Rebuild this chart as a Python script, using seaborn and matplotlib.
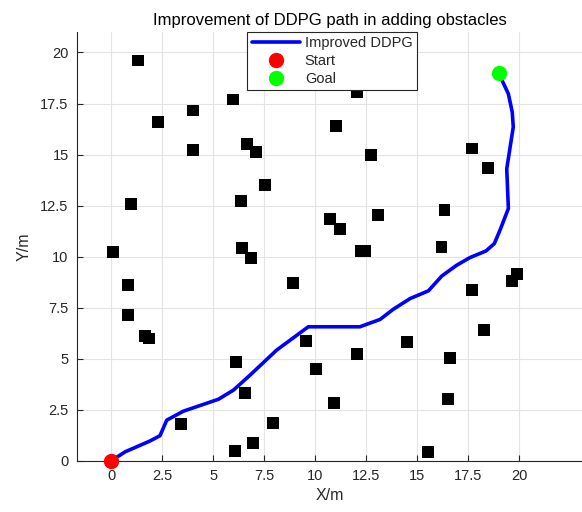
import numpy as np
import pandas as pd
import matplotlib
matplotlib.use("Agg")
import matplotlib.pyplot as plt
import seaborn as sns

# Obstacles
obs_x = [1.32, 2.30, 4.02, 4.00, 5.98, 6.67, 7.11, 7.55, 6.37, 0.98, 11.03, 12.05,
         12.75, 13.09, 10.75, 11.23, 12.25, 12.45, 16.35, 16.20, 0.10, 0.83, 0.83, 1.67,
         1.86, 6.42, 6.86, 8.92, 6.13, 9.56, 10.05, 6.57, 3.43, 7.94, 6.96, 6.08,
         10.93, 12.05, 14.51, 16.62, 16.52, 15.54, 17.70, 18.28, 19.66, 19.90, 17.70, 18.48]
obs_y = [19.60, 16.58, 17.16, 15.23, 17.70, 15.50, 15.11, 13.50, 12.73, 12.57, 16.38, 18.05,
         14.96, 12.03, 11.83, 11.34, 10.27, 10.27, 12.28, 10.46, 10.22, 8.60, 7.14, 6.11,
         6.00, 10.42, 9.93, 8.70, 4.84, 5.87, 4.50, 3.31, 1.81, 1.86, 0.88, 0.49,
         2.84, 5.23, 5.82, 5.04, 3.03, 0.44, 8.36, 6.40, 8.80, 9.14, 15.30, 14.33]

# Improved DDPG path
path_x = [0.0, 0.69, 1.91, 2.40, 2.73, 3.55, 5.26, 6.00, 6.81, 8.12, 9.67, 12.20, 13.19,
          13.84, 14.66, 15.56, 16.21, 16.94, 17.60, 18.38, 18.79, 19.07, 19.48, 19.40,
          19.72, 19.67, 19.48, 19.00]
path_y = [0.0, 0.45, 0.98, 1.24, 2.00, 2.44, 3.02, 3.47, 4.20, 5.43, 6.57, 6.57, 6.93,
          7.43, 7.95, 8.33, 9.05, 9.58, 9.96, 10.28, 10.64, 11.30, 12.36, 14.30,
          16.35, 17.08, 17.97, 19.00]

start = (0, 0)
goal = (19, 19)
x_ticks = [0, 2.5, 5, 7.5, 10, 12.5, 15, 17.5, 20]
y_ticks = [0, 2.5, 5, 7.5, 10, 12.5, 15, 17.5, 20]

sns.set_theme(style="whitegrid")
plt.rcParams['font.family'] = ['Liberation Sans', 'DejaVu Sans']

fig = plt.figure(figsize=(5.82, 5.12), dpi=100)
ax = fig.add_axes([77/582, 51/512, 505/582, 429/512])

obs_df = pd.DataFrame({"x": obs_x, "y": obs_y})
path_df = pd.DataFrame({"x": path_x, "y": path_y})

sns.scatterplot(data=obs_df, x="x", y="y", marker="s", s=72, color="black",
                edgecolor="none", ax=ax, zorder=3, legend=False)
sns.lineplot(data=path_df, x="x", y="y", sort=False, estimator=None, errorbar=None,
             color="#0000ff", linewidth=2.6, ax=ax, zorder=4, label="Improved DDPG")
ax.plot([start[0]], [start[1]], "o", color="#ff0000", markersize=10, zorder=5,
        label="Start", clip_on=False)
ax.plot([goal[0]], [goal[1]], "o", color="#00ff00", markersize=10, zorder=5, label="Goal")

ax.set_xlim(-1.67, 23.09)
ax.set_ylim(0, 21)
ax.set_xticks(x_ticks)
ax.set_yticks(y_ticks)
ax.set_xticklabels([f"{v:g}" for v in x_ticks])
ax.set_yticklabels([f"{v:g}" for v in y_ticks])

ax.set_facecolor("white")
ax.grid(True, color="#e3e3e3", linewidth=0.8)
for s in ["top", "right"]:
    ax.spines[s].set_visible(False)
for s in ["left", "bottom"]:
    ax.spines[s].set_visible(True)
    ax.spines[s].set_color("#262626")
    ax.spines[s].set_linewidth(0.8)
ax.tick_params(axis="both", direction="in", length=4, width=0.8, color="#262626",
               labelsize=10.5, labelcolor="#262626", pad=6)
ax.tick_params(axis="x", bottom=True)
ax.tick_params(axis="y", left=True)

ax.set_xlabel("X/m", fontsize=11.5, color="#262626", labelpad=3)
ax.set_ylabel("Y/m", fontsize=11.5, color="#262626", labelpad=6)
ax.set_title("Improvement of DDPG path in adding obstacles", fontsize=12, color="black", pad=5)

leg = ax.legend(loc="upper left", bbox_to_anchor=(0.337, 1.0), borderaxespad=0,
                fontsize=10.5, frameon=True, fancybox=False, framealpha=1,
                handlelength=3.3, labelspacing=0.25, borderpad=0.3, handletextpad=0.35)
leg.get_frame().set_edgecolor("#262626")
leg.get_frame().set_linewidth(0.8)

fig.savefig("out.png", dpi=100)
